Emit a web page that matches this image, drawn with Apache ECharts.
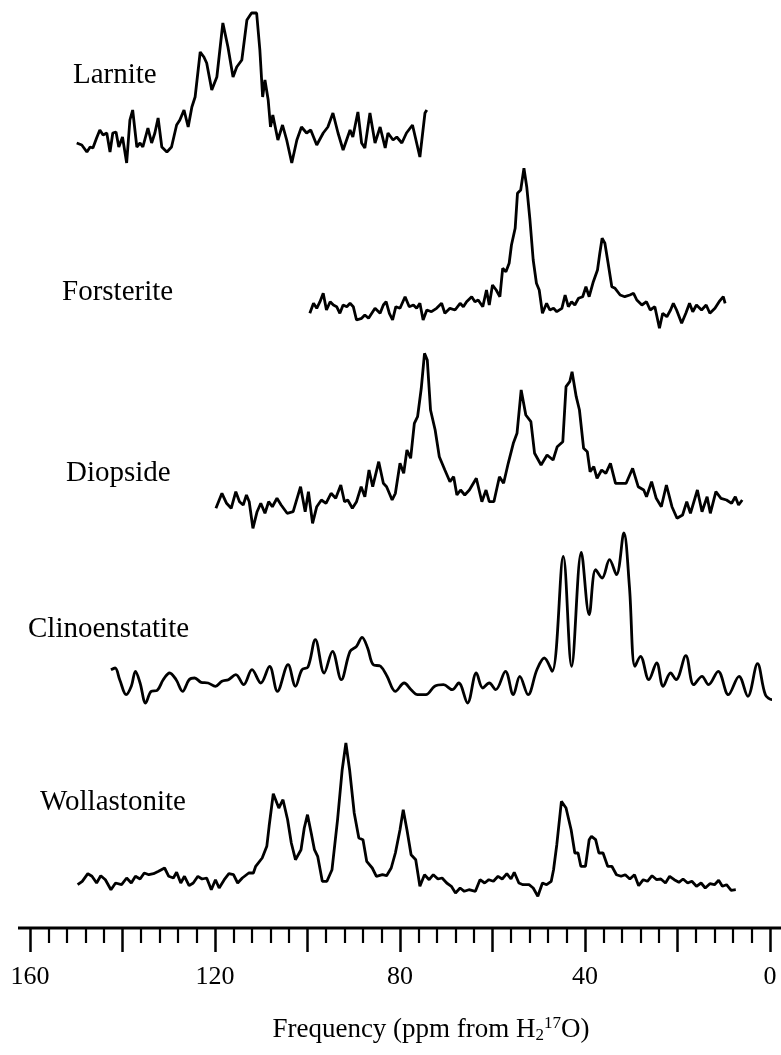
<!DOCTYPE html>
<html><head><meta charset="utf-8">
<script src="https://cdn.jsdelivr.net/npm/echarts@6/dist/echarts.min.js"></script>
<style>html,body{margin:0;padding:0;background:#fff}#c{width:781px;height:1055px}</style>
</head><body><div id="c"></div>
<script>
// ---- data (ppm, relative intensity) ----
const sampleNames = ['Larnite', 'Forsterite', 'Diopside', 'Clinoenstatite', 'Wollastonite'];

const larnitePpm = [149.9,148.8,147.7,147.0,146.4,145.6,144.9,144.2,143.4,142.7,142.1,141.4,140.8,140.0,139.1,138.4,137.8,136.9,136.2,135.6,134.5,133.7,133.0,132.3,131.5,130.4,129.4,128.3,127.6,126.7,125.8,125.0,124.3,123.2,122.4,121.8,120.7,119.6,118.3,117.2,116.1,115.3,114.2,113.1,112.1,111.0,110.3,109.7,109.2,108.5,108.0,107.5,106.4,105.4,104.5,103.4,102.3,101.3,100.2,99.3,98.0,96.6,95.6,94.5,93.4,92.3,90.8,90.2,89.1,88.3,87.6,86.5,85.4,84.3,83.2,82.6,81.5,80.7,79.6,78.6,77.3,75.7,74.6,74.2];
const larniteInt = [-3,-5,-12,-7,-8,2,10,5,7,-12,7,8,-7,3,-23,20,30,-7,-3,-7,12,-3,7,22,-7,-12,-7,15,20,30,13,33,43,88,83,77,50,63,117,93,63,73,80,120,127,127,90,43,60,40,13,25,0,15,0,-23,0,13,7,10,-5,7,13,27,7,-10,10,3,28,-3,-8,27,-3,13,-8,7,0,3,-3,7,15,-17,27,30];

const forsteritePpm = [99.5,98.7,98.0,97.3,96.6,95.9,95.1,94.4,93.7,93.0,92.3,91.5,90.8,90.1,89.4,88.3,87.6,86.8,86.1,85.4,84.3,83.6,83.0,82.3,81.6,80.9,80.0,78.9,78.0,77.1,76.4,75.7,75.0,74.2,73.2,72.1,71.0,70.3,69.2,68.1,67.0,66.3,65.6,64.5,63.8,63.1,62.1,61.3,60.7,60.0,59.2,58.4,57.8,57.1,56.4,55.9,55.1,54.6,53.9,53.2,52.6,51.9,51.2,50.5,49.9,49.2,48.3,47.6,46.8,46.1,45.0,44.3,43.6,42.9,42.2,41.4,40.5,39.8,39.1,38.2,37.3,36.8,36.3,35.7,35.0,34.2,33.5,32.4,31.4,30.3,29.5,28.8,27.7,26.7,25.9,24.9,23.9,23.2,22.3,21.5,20.9,20.2,19.1,18.2,17.4,16.7,15.9,14.8,13.8,13.0,11.9,11.0,10.1,9.7];
const forsteriteInt = [-3.3,6.7,1.7,8.3,16.7,0,8.3,5,3.3,-3.3,5,3.3,6.7,3.3,-10,-8.3,-5,-8.3,-3.3,1.7,-3.3,5,8.3,-3.3,-10,3.3,1.7,13.3,3.3,5,1.7,6.7,-10,0,-1.7,1.7,6.7,-3.3,1.7,0,6.7,3.3,8.3,13.3,8.3,10,3.3,20,5,25,20,13.3,41.7,38.3,46.7,65,81.7,116.7,120,141.7,123.3,90,50,26.7,20,-3.3,6.7,0,1.7,-1.7,1.7,15,3.3,8.3,5,11.7,13.3,23.3,13.3,28.3,40,56.7,71.7,66.7,46.7,23.3,21.7,15,13.3,15,16.7,10,5,8.3,0,3.3,-18.3,-3.3,-6.7,0,6.7,0,-13.3,-3.3,6.7,-1.7,5,0,5,-3.3,1.7,8.3,13.3,6.7];

const diopsidePpm = [119.8,118.5,117.5,116.5,115.5,114.7,113.9,113.2,112.6,111.8,110.9,110.1,109.2,108.4,107.6,106.6,105.7,104.4,103.1,101.5,100.5,99.8,98.9,98.0,97.0,96.0,94.9,93.9,92.8,92.0,91.3,90.3,89.4,88.4,87.6,86.7,85.9,84.6,83.6,82.9,81.7,81.0,80.0,79.2,78.5,77.7,76.9,76.2,75.4,74.7,74.1,73.4,72.4,71.5,70.3,69.2,68.4,67.7,66.9,66.0,65.0,63.5,62.3,61.4,60.7,59.7,58.5,57.6,56.6,55.5,54.7,53.8,52.8,51.7,50.9,49.5,48.2,46.9,46.0,44.8,44.1,43.3,42.8,41.9,41.2,40.3,39.5,38.9,38.1,37.4,36.4,35.5,34.5,33.4,32.3,31.1,29.7,28.5,27.3,26.7,25.6,24.6,23.5,22.4,21.2,20.1,18.9,18.0,17.2,15.7,14.7,13.6,12.9,11.7,10.6,9.4,8.3,7.5,6.8,6.0];
const diopsideInt = [-8.3,6.7,-3.3,-8.3,8.3,-1.7,-5,5,-1.7,-28.3,-11.7,-3.3,-13.3,-1.7,-6.7,1.7,-5,-13.3,-11.7,13.3,-11.7,8.3,-23.3,-6.7,0,-3.3,6.7,1.7,15,-1.7,0,-8.3,-1.7,13.3,3.3,30,13.3,38.3,16.7,13.3,0,6.7,36.7,26.7,50,41.7,76.7,83.3,111.7,146.7,140,90,70,43.3,30,18.3,23.3,5,10,5,10,21.7,-1.7,10,-1.7,-1.7,23.3,16.7,36.7,56.7,66.7,110,85,78.3,46.7,35,45,40,53.3,58.3,113.3,118.3,128.3,103.3,90,51.7,48.3,28.3,33.3,21.7,30,26.7,36.7,16.7,16.7,16.7,31.7,13.3,10,3.3,18.3,1.7,-6.7,15,-6.7,-18.3,-15,-1.7,-13.3,10,-11.7,3.3,-13.3,8.3,1.7,0,-3.3,3.3,-5,0];

const clinoPpm = [142.5,141.6,140.6,139.2,138.1,137.2,136.2,135.0,133.8,132.5,131.2,129.8,128.4,127.0,125.6,124.4,123.0,121.5,119.9,118.5,117.1,115.5,113.8,112.0,110.1,108.2,106.5,104.2,102.6,101.2,99.9,98.3,96.4,94.6,92.7,90.8,89.4,88.2,87.0,85.8,84.2,82.8,81.0,79.1,77.6,76.2,74.4,72.5,70.6,68.7,67.3,65.4,63.5,62.1,60.7,59.3,57.2,55.5,54.1,52.3,50.4,48.8,47.1,44.7,42.9,40.8,39.1,37.7,36.3,34.7,33.2,31.6,30.4,29.2,28.0,26.2,24.5,23.1,21.5,20.3,18.2,16.5,14.7,13.3,11.2,9.0,6.7,4.8,2.7,1.0,-0.4,-1.8,-2.7];
const clinoInt = [13.3,15,3.3,-11.7,-3.3,11.7,0,-20,-8.3,-7.3,3.3,10,3.3,-8.3,3.3,5,0.7,0,-3.3,1.7,3.3,8.3,-1.7,13.3,0,16.7,-8.3,18.3,-3.3,13.3,16,43.3,10,31.7,3.3,31.7,36.7,45.7,35,18.3,16.7,6.7,-8.3,0,-6.7,-11.7,-11.7,-3.3,-1.7,-6.7,0,-20,10,-5,0,-6.7,11.7,-11.7,6.7,-11.7,13.3,25,11.7,126.7,16.7,130.7,68.3,113.3,105,123.3,108.3,150,96.7,16.7,26.7,3.3,20,-3.3,10,3.3,27.3,-1.7,6.7,-1.7,11.7,-11.7,6.7,-13.3,19.3,-11.7,-16.7,-5,-3.3];

const wollPpm = [149.7,148.7,147.5,146.6,145.6,144.7,143.7,142.5,141.5,140.2,139.1,138.1,137.2,136.2,135.3,134.3,133.3,132.2,130.9,130.0,129.0,128.3,127.4,126.6,125.6,124.7,123.7,122.8,121.8,120.8,119.9,119.1,118.0,117.0,116.0,115.1,114.1,112.7,111.7,111.2,109.8,108.8,108.3,107.4,106.2,105.3,104.3,103.5,102.6,101.4,100.7,100.0,99.2,98.5,97.8,96.8,95.8,94.7,93.5,92.5,91.7,90.9,89.9,88.9,88.0,87.2,86.0,85.1,83.8,82.9,81.9,81.0,80.0,79.3,78.5,77.6,76.6,75.7,74.7,73.7,72.8,71.8,70.9,69.9,68.9,68.0,67.0,66.1,65.1,63.7,62.7,61.7,60.8,59.8,58.8,57.9,56.9,56.0,55.3,54.3,53.4,52.1,51.2,50.2,49.2,48.3,47.3,46.8,46.1,45.1,44.1,43.0,42.2,41.5,40.9,39.9,39.1,38.6,37.7,37.0,36.1,35.1,34.2,33.2,32.2,31.3,30.3,29.3,28.4,27.4,26.5,25.5,24.5,23.6,22.6,21.7,20.7,19.7,18.8,17.8,16.9,15.9,14.9,14.0,13.0,12.0,11.1,10.3,9.4,8.4,7.4];
const wollInt = [-1.7,1.7,9.3,6.7,0,7.3,3.3,-6.7,0,-1.7,5,0,6.7,4,10,8.3,9.3,11.7,15,6.7,5,10.7,0,6.7,-2.7,0,6.7,4,5,-6.7,3.3,-5,3.3,9.3,8.3,0,5,10,10,16.7,25,36.7,56.7,89.3,75,83.3,63.3,40,23.3,33.3,55,68.3,50,33.3,26.7,1.7,1.7,13.3,63.3,113.3,140,113.3,70,45,43.3,21.7,15,6.7,8.3,7.3,15,30,53.3,73.3,53.3,28.3,23.3,-3.3,8.3,3.3,8.3,4,5,0,-3.3,-10,-5,-8.3,-6.7,-8.3,3.3,0,3.3,1.7,6.7,4,9.3,4,10.7,0,-1.7,-1.7,-5,-13.3,0,-1.7,1.7,13.3,38.3,81.7,75,53.3,30,30,16.7,16.7,43.3,46.7,43.3,30,30,16.7,16.7,8.3,6.7,8.3,4,8.3,-2.7,3.3,1.7,7.3,3.3,4,0,6.7,3.3,0.7,4,0,1.7,-3.3,0,-5,-0.7,-1.7,2.7,-3.3,-1.7,-7.3,-6.7];

const tickLabels = [160, 120, 80, 40, 0];

// ---- layout (vertical stacking offsets of each trace, label anchors) ----
const stackOffset = [788, 618, 428, 245, 45];
const labelPos = [[73, 61], [62, 278], [66, 459], [28, 615], [40, 788]];

const series = [
  [larnitePpm, larniteInt, false],
  [forsteritePpm, forsteriteInt, false],
  [diopsidePpm, diopsideInt, false],
  [clinoPpm, clinoInt, 0.35],
  [wollPpm, wollInt, false]
].map(([xs, ys, sm], i) => ({
  type: 'line',
  data: xs.map((x, k) => [x, ys[k] + stackOffset[i]]),
  showSymbol: false,
  smooth: sm,
  clip: false,
  lineStyle: { color: '#000', width: 2.8 },
  silent: true
}));

const serif = '"Liberation Serif", "Times New Roman", serif';

const chart = echarts.init(document.getElementById('c'), null, { renderer: 'canvas' });
chart.setOption({
  animation: false,
  backgroundColor: '#fff',
  grid: { left: 30, right: 11, top: 0, bottom: 127 },
  xAxis: {
    type: 'value', min: 0, max: 160, interval: 20, inverse: true,
    axisLine: { show: false },
    splitLine: { show: false },
    axisTick: { show: true, length: 24, lineStyle: { color: '#000', width: 2.5 } },
    minorTick: { show: true, splitNumber: 5, length: 15, lineStyle: { color: '#000', width: 2.2 } },
    minorSplitLine: { show: false },
    axisLabel: {
      margin: 36, color: '#000', fontSize: 26, fontFamily: serif,
      formatter: v => (tickLabels.indexOf(v) >= 0 ? String(v) : '')
    }
  },
  yAxis: { type: 'value', min: 0, max: 928, show: false },
  series: series,
  graphic: [
    { type: 'line', shape: { x1: 18, y1: 928, x2: 781, y2: 928 }, style: { stroke: '#000', lineWidth: 3 }, silent: true },
    ...sampleNames.map((name, i) => ({
      type: 'text', left: labelPos[i][0], top: labelPos[i][1],
      style: { text: name, font: '29px ' + serif, fill: '#000' }, silent: true
    })),
    {
      type: 'text', x: 431, y: 1030,
      style: {
        text: 'Frequency (ppm from H{sub|2}{sup|17}O)',
        font: '27px ' + serif, fill: '#000', align: 'center', verticalAlign: 'middle',
        rich: {
          sub: { fontSize: 17, fontFamily: serif, verticalAlign: 'bottom', padding: [10, 0, 0, 0] },
          sup: { fontSize: 17, fontFamily: serif, verticalAlign: 'top', padding: [0, 0, 12, 0] }
        }
      },
      silent: true
    }
  ]
});
</script>
</body></html>
